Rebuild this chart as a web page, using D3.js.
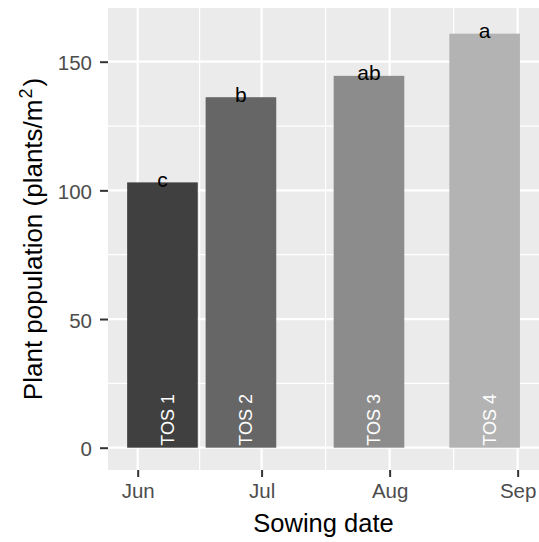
<!DOCTYPE html>
<html>
<head>
<meta charset="utf-8">
<script src="https://cdn.jsdelivr.net/npm/d3@7"></script>
<style>
  body { margin: 0; background: #fff; }
  text { font-family: "Liberation Sans", Arial, sans-serif; }
</style>
</head>
<body>
<div id="chart-area"></div>
<script>
// Data
var treatments = ["TOS 1", "TOS 2", "TOS 3", "TOS 4"];
var sowingDates = ["2018-06-07", "2018-06-26", "2018-07-27", "2018-08-24"];
var population = [103.1, 136.2, 144.5, 160.9];
var letters = ["c", "b", "ab", "a"];
var barFills = ["#404040", "#666666", "#8c8c8c", "#b3b3b3"];
var monthTicks = ["2018-06-01", "2018-07-01", "2018-08-01", "2018-09-01"];
var yTicks = [0, 50, 100, 150];
var yMinorTicks = [25, 75, 125];

var parseDate = d3.utcParse("%Y-%m-%d");
var data = treatments.map(function(t, i) {
  return { tos: t, date: parseDate(sowingDates[i]), value: population[i], letter: letters[i], fill: barFills[i] };
});

var margin = { left: 108, right: 0, top: 8, bottom: 72 },
  width = 539 - margin.left - margin.right,
  height = 542 - margin.top - margin.bottom;

var svg = d3
  .select("#chart-area")
  .append("svg")
  .attr("width", 539)
  .attr("height", 542);
var g = svg
  .append("g")
  .attr("transform", "translate(" + margin.left + ", " + margin.top + ")");

// Scales
var x = d3
  .scaleUtc()
  .domain([new Date(Date.UTC(2018, 4, 24, 19, 30)), new Date(Date.UTC(2018, 8, 6, 4))])
  .range([0, width]);
var y = d3.scaleLinear().domain([-8.67, 170.87]).range([height, 0]);

var dayMs = 24 * 3600 * 1000;
var barHalf = 0.9 * 19 * dayMs / 2; // 90% of the smallest gap between sowings

var majorX = monthTicks.map(parseDate);
var minorX = d3.pairs(majorX).map(function(p) {
  return new Date((p[0].getTime() + p[1].getTime()) / 2);
});

// Panel
g.append("rect")
  .attr("width", width)
  .attr("height", height)
  .attr("fill", "#ebebeb");

// Grid
g.selectAll(".y-minor")
  .data(yMinorTicks)
  .enter()
  .append("line")
  .attr("x1", 0)
  .attr("x2", width)
  .attr("y1", function(d) { return y(d); })
  .attr("y2", function(d) { return y(d); })
  .attr("stroke", "#fff")
  .attr("stroke-width", 1.2);
g.selectAll(".x-minor")
  .data(minorX)
  .enter()
  .append("line")
  .attr("y1", 0)
  .attr("y2", height)
  .attr("x1", function(d) { return x(d); })
  .attr("x2", function(d) { return x(d); })
  .attr("stroke", "#fff")
  .attr("stroke-width", 1.2);
g.selectAll(".y-major")
  .data(yTicks)
  .enter()
  .append("line")
  .attr("x1", 0)
  .attr("x2", width)
  .attr("y1", function(d) { return y(d); })
  .attr("y2", function(d) { return y(d); })
  .attr("stroke", "#fff")
  .attr("stroke-width", 2.2);
g.selectAll(".x-major")
  .data(majorX)
  .enter()
  .append("line")
  .attr("y1", 0)
  .attr("y2", height)
  .attr("x1", function(d) { return x(d); })
  .attr("x2", function(d) { return x(d); })
  .attr("stroke", "#fff")
  .attr("stroke-width", 2.2);

// Bars
g.selectAll(".bar")
  .data(data)
  .enter()
  .append("rect")
  .attr("class", "bar")
  .attr("x", function(d) { return x(new Date(d.date.getTime() - barHalf)); })
  .attr("width", function(d) {
    return x(new Date(d.date.getTime() + barHalf)) - x(new Date(d.date.getTime() - barHalf));
  })
  .attr("y", function(d) { return y(d.value); })
  .attr("height", function(d) { return y(0) - y(d.value); })
  .attr("fill", function(d) { return d.fill; });

// TOS labels inside bars
g.selectAll(".tos")
  .data(data)
  .enter()
  .append("text")
  .attr("transform", function(d) {
    return "translate(" + (x(d.date) + 11.5) + "," + (y(0) - 2) + ") rotate(-90)";
  })
  .attr("font-size", "18px")
  .attr("fill", "#fff")
  .text(function(d) { return d.tos; });

// Significance letters
g.selectAll(".letter")
  .data(data)
  .enter()
  .append("text")
  .attr("x", function(d) { return x(d.date); })
  .attr("y", function(d) { return y(d.value) + 4.3; })
  .attr("text-anchor", "middle")
  .attr("font-size", "21px")
  .attr("fill", "#000")
  .text(function(d) { return d.letter; });

// X-axis
var xAxisCall = d3
  .axisBottom(x)
  .tickValues(majorX)
  .tickSize(7)
  .tickPadding(6)
  .tickFormat(d3.utcFormat("%b"));
var xAxis = g
  .append("g")
  .attr("transform", "translate(0," + height + ")")
  .call(xAxisCall);

// Y-axis
var yAxisCall = d3.axisLeft(y).tickValues(yTicks).tickSize(8).tickPadding(8);
var yAxis = g.append("g").call(yAxisCall);

[xAxis, yAxis].forEach(function(a) {
  a.select(".domain").remove();
  a.selectAll(".tick line").attr("stroke", "#333333").attr("stroke-width", 2);
  a.selectAll(".tick text")
    .attr("fill", "#4d4d4d")
    .attr("font-size", "20.5px")
    .attr("font-family", '"Liberation Sans", Arial, sans-serif');
});
yAxis.selectAll(".tick text").attr("dy", "0.4em");

// Labels
g.append("text")
  .attr("x", width / 2)
  .attr("y", height + 62)
  .attr("font-size", "25.5px")
  .attr("text-anchor", "middle")
  .attr("fill", "#000")
  .text("Sowing date");

var yLabel = g
  .append("text")
  .attr("transform", "translate(" + (42 - margin.left) + "," + height / 2 + ") rotate(-90)")
  .attr("font-size", "26px")
  .attr("text-anchor", "middle")
  .attr("fill", "#000");
yLabel.append("tspan").text("Plant population (plants/m");
yLabel.append("tspan").attr("font-size", "18px").attr("dx", "1").attr("dy", "-10").text("2");
yLabel.append("tspan").attr("dx", "2").attr("dy", "10").text(")");
</script>
</body>
</html>
